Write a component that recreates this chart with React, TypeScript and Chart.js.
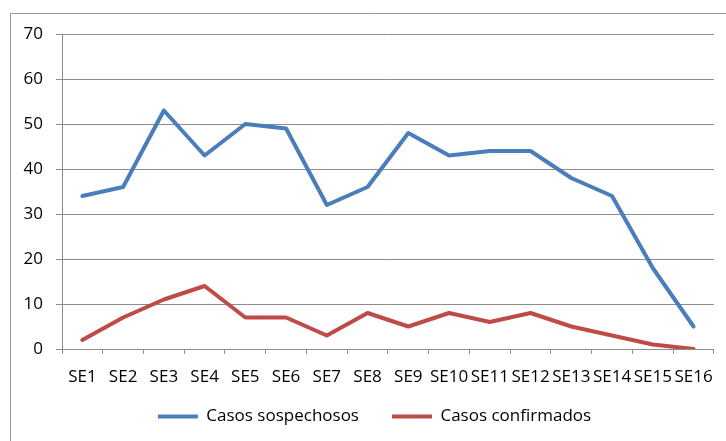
import React, { useEffect, useRef } from "react";
import { Chart, registerables } from "chart.js";

Chart.register(...registerables);

const categories = ["SE1", "SE2", "SE3", "SE4", "SE5", "SE6", "SE7", "SE8", "SE9", "SE10", "SE11", "SE12", "SE13", "SE14", "SE15", "SE16"];
const sospechosos = [34, 36, 53, 43, 50, 49, 32, 36, 48, 43, 44, 44, 38, 34, 18, 5];
const confirmados = [2, 7, 11, 14, 7, 7, 3, 8, 5, 8, 6, 8, 5, 3, 1, 0];
const yTicks = [0, 10, 20, 30, 40, 50, 60, 70];

const GRID = "#8c8c8c";
const FONT = "'Open Sans', 'Noto Sans', sans-serif";

const framePlugin = {
  id: "frame",
  afterLayout(chart: any) {
    // Excel places the legend slightly right of centre and closer to the axis labels
    const lg = chart.legend;
    if (lg) {
      const h = lg.bottom - lg.top;
      lg.left = 35;
      lg.top = 375;
      lg.bottom = 375 + h;
    }
  },
  beforeDraw(chart: any) {
    const ctx = chart.ctx;
    ctx.save();
    ctx.strokeStyle = "#9a9a9a";
    ctx.lineWidth = 1;
    ctx.beginPath();
    ctx.moveTo(10.5, chart.height + 5);
    ctx.lineTo(10.5, 13.5);
    ctx.lineTo(chart.width + 5, 13.5);
    ctx.stroke();
    ctx.restore();
  },
};

export default function App() {
  const ref = useRef<HTMLCanvasElement>(null);
  useEffect(() => {
    document.body.style.margin = "0";
    const chart = new Chart(ref.current!, {
      type: "line",
      data: {
        labels: categories,
        datasets: [
          {
            label: "Casos sospechosos",
            data: sospechosos,
            borderColor: "#4A7EBB",
            backgroundColor: "#4A7EBB",
            borderWidth: 4,
            pointRadius: 0,
            borderCapStyle: "round",
            borderJoinStyle: "round",
            tension: 0,
          },
          {
            label: "Casos confirmados",
            data: confirmados,
            borderColor: "#BE4B48",
            backgroundColor: "#BE4B48",
            borderWidth: 4,
            pointRadius: 0,
            borderCapStyle: "round",
            borderJoinStyle: "round",
            tension: 0,
          },
        ],
      },
      options: {
        responsive: false,
        animation: false,
        layout: { padding: { top: 34, left: 12, right: 12, bottom: -10 } },
        plugins: {
          tooltip: { enabled: false },
          legend: {
            position: "bottom",
            labels: {
              usePointStyle: true,
              pointStyle: "line",
              pointStyleWidth: 40,
              padding: 33,
              color: "#000",
              font: { family: FONT, size: 17 },
            },
          },
        },
        scales: {
          x: {
            offset: true,
            grid: { offset: true, drawOnChartArea: false, color: GRID, tickLength: 5 },
            border: { color: GRID, width: 1 },
            ticks: {
              autoSkip: false,
              maxRotation: 0,
              minRotation: 0,
              padding: 13,
              color: "#000",
              font: { family: FONT, size: 17 },
            },
            afterFit(scale: any) {
              scale.height = 42;
            },
          },
          y: {
            min: 0,
            max: 70,
            afterBuildTicks(scale: any) {
              scale.ticks = yTicks.map((v) => ({ value: v }));
            },
            grid: { color: GRID, tickLength: 6 },
            border: { color: GRID, width: 1 },
            ticks: {
              padding: 13,
              color: "#000",
              font: { family: FONT, size: 17 },
            },
            afterFit(scale: any) {
              scale.width = 50;
            },
          },
        },
      },
      plugins: [framePlugin],
    });
    return () => chart.destroy();
  }, []);
  return (
    <div style={{ position: "fixed", left: 0, top: 0, width: 726, height: 441, background: "#fff" }}>
      <canvas ref={ref} width={726} height={441} />
    </div>
  );
}
